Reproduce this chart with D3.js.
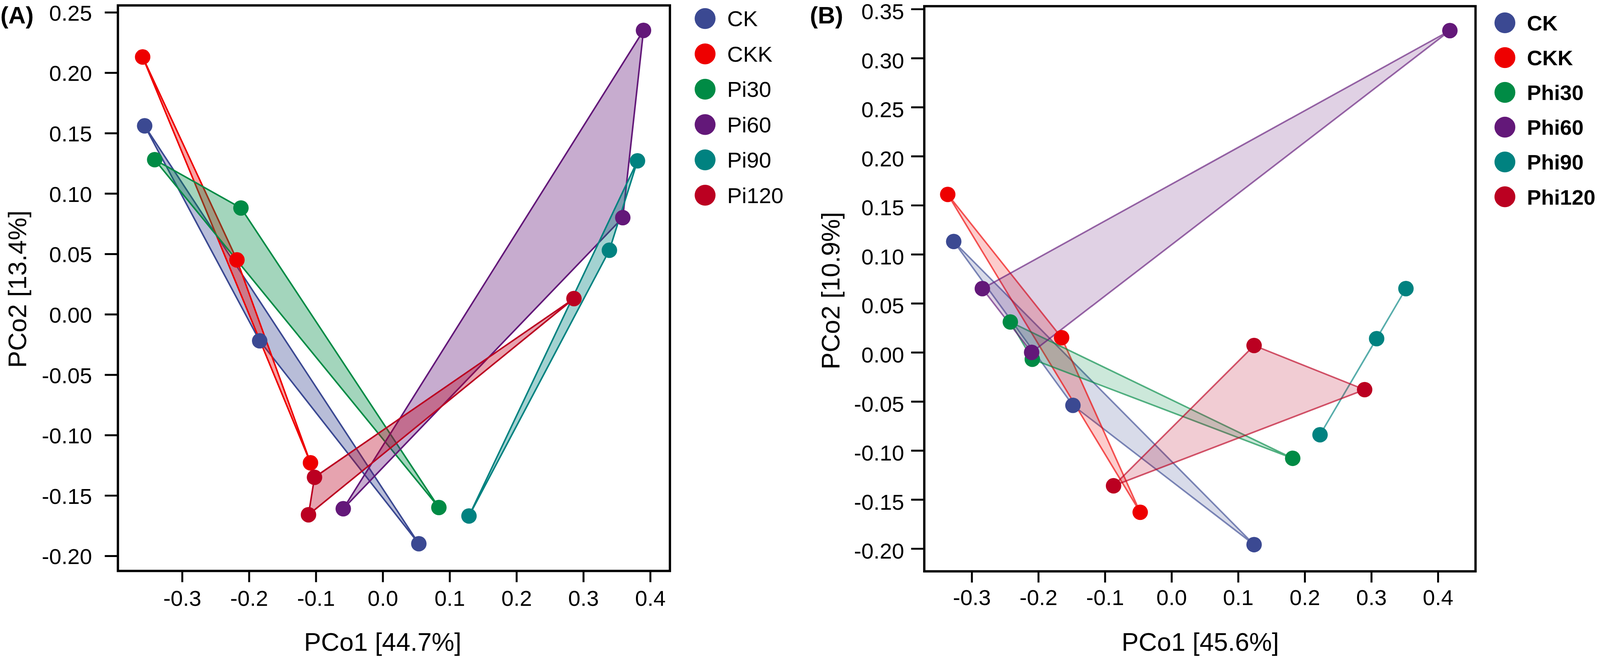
<!DOCTYPE html>
<html>
<head>
<meta charset="utf-8">
<script src="https://cdn.jsdelivr.net/npm/d3@7"></script>
<style>
  html, body { margin: 0; padding: 0; background: #fff; overflow: hidden; }
  svg { display: block; }
  text { font-family: "Liberation Sans", Arial, sans-serif; fill: #000; }
</style>
</head>
<body>
<div id="chart"></div>
<script>
// 1. DATA
const colors = ["#3B4992", "#EE0000", "#008B45", "#631879", "#008280", "#BB0021"];

// panel A
const groupsA = ["CK", "CKK", "Pi30", "Pi60", "Pi90", "Pi120"];
const sampleGroupA = ["CK", "CK", "CK", "CKK", "CKK", "CKK", "Pi30", "Pi30", "Pi30",
                      "Pi60", "Pi60", "Pi60", "Pi90", "Pi90", "Pi90", "Pi120", "Pi120", "Pi120"];
const pco1A = [-0.356, -0.184, 0.054, -0.359, -0.218, -0.108, -0.341, -0.212, 0.084,
               0.390, 0.359, -0.059, 0.381, 0.339, 0.129, 0.286, -0.102, -0.111];
const pco2A = [0.156, -0.022, -0.190, 0.213, 0.045, -0.123, 0.128, 0.088, -0.160,
               0.235, 0.080, -0.161, 0.127, 0.053, -0.167, 0.013, -0.135, -0.166];
const xTicksA = [-0.3, -0.2, -0.1, 0.0, 0.1, 0.2, 0.3, 0.4];
const yTicksA = [-0.20, -0.15, -0.10, -0.05, 0.00, 0.05, 0.10, 0.15, 0.20, 0.25];

// panel B
const groupsB = ["CK", "CKK", "Phi30", "Phi60", "Phi90", "Phi120"];
const sampleGroupB = ["CK", "CK", "CK", "CKK", "CKK", "CKK", "Phi30", "Phi30", "Phi30",
                      "Phi60", "Phi60", "Phi60", "Phi90", "Phi90", "Phi90", "Phi120", "Phi120", "Phi120"];
const pco1B = [-0.327, -0.148, 0.124, -0.336, -0.165, -0.047, -0.242, -0.209, 0.182,
               0.418, -0.284, -0.210, 0.352, 0.308, 0.223, 0.124, 0.290, -0.087];
const pco2B = [0.113, -0.054, -0.196, 0.161, 0.015, -0.163, 0.031, -0.007, -0.108,
               0.328, 0.065, 0.000, 0.065, 0.014, -0.084, 0.007, -0.038, -0.136];
const xTicksB = [-0.3, -0.2, -0.1, 0.0, 0.1, 0.2, 0.3, 0.4];
const yTicksB = [-0.20, -0.15, -0.10, -0.05, 0.00, 0.05, 0.10, 0.15, 0.20, 0.25, 0.30, 0.35];

// 2. SVG (scales to the window in case it is a little narrower)
const svg = d3.select("#chart")
    .append("svg")
    .attr("viewBox", "0 0 4139 1705")
    .attr("preserveAspectRatio", "xMinYMin meet")
    .style("width", "100vw")
    .style("height", "100vh");

function drawPanel(cfg) {
    const g = svg.append("g");

    // SCALES
    const x = d3.scaleLinear().domain(cfg.xDomain).range([cfg.left, cfg.right]);
    const y = d3.scaleLinear().domain(cfg.yDomain).range([cfg.bottom, cfg.top]);
    const color = d3.scaleOrdinal().domain(cfg.groups).range(colors);

    // HULLS (one polygon per group)
    cfg.groups.forEach(grp => {
        const pts = [];
        cfg.groupOf.forEach((k, i) => {
            if (k === grp) pts.push([x(cfg.pc1[i]), y(cfg.pc2[i])]);
        });
        const hull = d3.polygonHull(pts);
        g.append("path")
            .attr("d", "M" + hull.join("L") + "Z")
            .attr("fill", color(grp))
            .attr("fill-opacity", cfg.fillOpacity)
            .attr("stroke", color(grp))
            .attr("stroke-opacity", cfg.strokeOpacity)
            .attr("stroke-width", 4)
            .attr("stroke-linejoin", "round");
    });

    // POINTS
    g.selectAll(".pt")
        .data(cfg.pc1.map((v, i) => ({ x: v, y: cfg.pc2[i], grp: cfg.groupOf[i] })))
        .enter()
        .append("circle")
        .attr("cx", d => x(d.x))
        .attr("cy", d => y(d.y))
        .attr("r", 20)
        .attr("fill", d => color(d.grp));

    // AXES
    const xAxis = g.append("g")
        .attr("transform", `translate(0, ${cfg.bottom})`)
        .call(d3.axisBottom(x).tickValues(cfg.xTicks).tickFormat(d => d.toFixed(1))
            .tickSize(29).tickSizeOuter(0).tickPadding(cfg.xPad));
    const yAxis = g.append("g")
        .attr("transform", `translate(${cfg.left}, 0)`)
        .call(d3.axisLeft(y).tickValues(cfg.yTicks).tickFormat(d => d.toFixed(2))
            .tickSize(34).tickSizeOuter(0).tickPadding(cfg.yPad));
    [xAxis, yAxis].forEach(a => {
        a.select(".domain").remove();
        a.selectAll(".tick line").attr("stroke", "#000").attr("stroke-width", 5);
        a.selectAll(".tick text").attr("font-size", "57px").attr("fill", "#000")
            .attr("font-family", "'Liberation Sans', Arial, sans-serif");
    });
    yAxis.selectAll(".tick text").attr("dy", cfg.yDy);

    // BOX
    g.append("rect")
        .attr("x", cfg.left)
        .attr("y", cfg.top)
        .attr("width", cfg.right - cfg.left)
        .attr("height", cfg.bottom - cfg.top)
        .attr("fill", "none")
        .attr("stroke", "#000")
        .attr("stroke-width", 6);

    // AXIS LABELS
    g.append("text")
        .attr("text-anchor", "middle")
        .attr("x", cfg.xTitleX)
        .attr("y", 1683)
        .attr("font-size", "66px")
        .text(cfg.xTitle);

    g.append("text")
        .attr("text-anchor", "middle")
        .attr("transform", `translate(${cfg.yTitleX}, ${cfg.yTitleY}) rotate(-90)`)
        .attr("font-size", "66px")
        .text(cfg.yTitle);

    // PANEL TAG
    g.append("text")
        .attr("x", cfg.tagX)
        .attr("y", 61)
        .attr("font-size", "62px")
        .attr("font-weight", "bold")
        .text(cfg.tag);

    // LEGEND
    cfg.groups.forEach((grp, i) => {
        const cy = cfg.legY + i * cfg.legStep;
        g.append("circle")
            .attr("cx", cfg.legX)
            .attr("cy", cy)
            .attr("r", 27)
            .attr("fill", color(grp));
        g.append("text")
            .attr("x", cfg.legX + 57)
            .attr("y", cy + 20)
            .attr("font-size", cfg.legBold ? "55px" : "57px")
            .attr("font-weight", cfg.legBold ? "bold" : "normal")
            .text(grp);
    });
}

drawPanel({
    groups: groupsA, groupOf: sampleGroupA, pc1: pco1A, pc2: pco2A,
    xTicks: xTicksA, yTicks: yTicksA,
    xDomain: [-0.396, 0.4295], yDomain: [-0.2125, 0.2557],
    left: 305, right: 1733, top: 14, bottom: 1477,
    xPad: 21, yPad: 33, yDy: "0.37em",
    fillOpacity: 0.36, strokeOpacity: 1,
    xTitle: "PCo1 [44.7%]", xTitleX: 990,
    yTitle: "PCo2 [13.4%]", yTitleX: 68, yTitleY: 748,
    tag: "(A)", tagX: 1,
    legX: 1824, legY: 48, legStep: 91.4, legBold: false
});

drawPanel({
    groups: groupsB, groupOf: sampleGroupB, pc1: pco1B, pc2: pco2B,
    xTicks: xTicksB, yTicks: yTicksB,
    xDomain: [-0.3712, 0.4565], yDomain: [-0.2232, 0.3529],
    left: 2391, right: 3817, top: 16, bottom: 1478,
    xPad: 18, yPad: 18, yDy: "0.45em",
    fillOpacity: 0.2, strokeOpacity: 0.65,
    xTitle: "PCo1 [45.6%]", xTitleX: 3105,
    yTitle: "PCo2 [10.9%]", yTitleX: 2172, yTitleY: 752,
    tag: "(B)", tagX: 2095,
    legX: 3893, legY: 59, legStep: 90, legBold: true
});
</script>
</body>
</html>
